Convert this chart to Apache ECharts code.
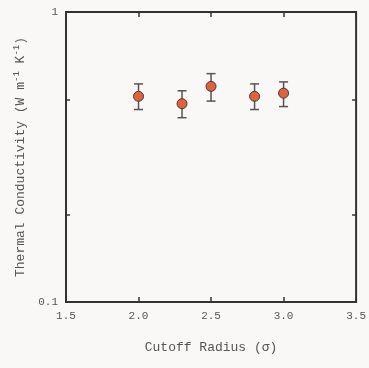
<!DOCTYPE html>
<html>
<head>
<meta charset="utf-8">
<script src="https://cdn.jsdelivr.net/npm/echarts@6/dist/echarts.min.js"></script>
<style>
html,body{margin:0;padding:0;background:#f9f8f6;}
#main{width:369px;height:368px;}
</style>
</head>
<body>
<div id="main"></div>
<script>
var cutoffRadius = [2.0, 2.3, 2.5, 2.8, 3.0];
var conductivity = [0.512, 0.483, 0.554, 0.512, 0.525];
var errLow = [0.461, 0.432, 0.493, 0.461, 0.472];
var errHigh = [0.565, 0.535, 0.613, 0.565, 0.574];
var xTicks = [1.5, 2.0, 2.5, 3.0, 3.5];
var yTicks = [0.1, 0.2, 0.5, 1];
var yLabels = [0.1, 1];

var FONT = 'Liberation Mono';
var chart = echarts.init(document.getElementById('main'), null, {renderer: 'canvas'});

var errData = cutoffRadius.map(function (x, i) { return [x, errLow[i], errHigh[i]]; });
var ptData = cutoffRadius.map(function (x, i) { return [x, conductivity[i]]; });

var commonX = {
  type: 'value', min: 1.5, max: 3.5, interval: 0.5,
  axisLine: {show: false},
  splitLine: {show: false},
  axisTick: {inside: true, length: 5, lineStyle: {color: '#333', width: 1.5}}
};
var commonY = {
  type: 'log', logBase: 10, min: 0.1, max: 1,
  axisLine: {show: false},
  splitLine: {show: false},
  minorTick: {show: false},
  axisTick: {inside: true, length: 4, customValues: yTicks, lineStyle: {color: '#333', width: 1.5}}
};

chart.setOption({
  backgroundColor: '#f9f8f6',
  animation: false,
  grid: {left: 66, right: 11, top: 12, bottom: 66, show: true, borderColor: '#333', borderWidth: 2, backgroundColor: 'transparent'},
  xAxis: [
    Object.assign({}, commonX, {
      position: 'bottom',
      name: 'Cutoff Radius (σ)', nameLocation: 'middle', nameGap: 39,
      nameTextStyle: {fontFamily: FONT, fontSize: 13, color: '#555'},
      axisLabel: {fontFamily: FONT, fontSize: 11, color: '#555', margin: 9,
        formatter: function (v) { return v.toFixed(1); }}
    }),
    Object.assign({}, commonX, {position: 'top', axisLabel: {show: false}})
  ],
  yAxis: [
    Object.assign({}, commonY, {
      position: 'left',
      name: '{n|Thermal Conductivity (W m}{s|-1}{n| K}{s|-1}{n|)}',
      nameLocation: 'middle', nameGap: 36,
      nameTextStyle: {
        fontFamily: FONT, fontSize: 13, color: '#555',
        rich: {
          n: {fontFamily: FONT, fontSize: 13, color: '#555'},
          s: {fontFamily: FONT, fontSize: 9, color: '#555', verticalAlign: 'top', padding: [0, 0, 8, 0]}
        }
      },
      axisLabel: {customValues: yLabels, fontFamily: FONT, fontSize: 11, color: '#555', margin: 8,
        formatter: function (v) { return v >= 1 ? '1' : '0.1'; }}
    }),
    Object.assign({}, commonY, {position: 'right', axisLabel: {show: false}})
  ],
  series: [
    {
      type: 'custom',
      xAxisIndex: 0, yAxisIndex: 0,
      data: errData,
      encode: {x: 0, y: [1, 2]},
      z: 2,
      renderItem: function (params, api) {
        var x = api.value(0);
        var lo = api.coord([x, api.value(1)]);
        var hi = api.coord([x, api.value(2)]);
        var w = 4.5;
        var st = {stroke: '#555', lineWidth: 1.5};
        return {
          type: 'group',
          children: [
            {type: 'line', shape: {x1: lo[0], y1: lo[1], x2: hi[0], y2: hi[1]}, style: st},
            {type: 'line', shape: {x1: lo[0] - w, y1: lo[1], x2: lo[0] + w, y2: lo[1]}, style: st},
            {type: 'line', shape: {x1: hi[0] - w, y1: hi[1], x2: hi[0] + w, y2: hi[1]}, style: st}
          ]
        };
      }
    },
    {
      type: 'scatter',
      xAxisIndex: 0, yAxisIndex: 0,
      data: ptData,
      symbol: 'circle',
      symbolSize: 10,
      z: 3,
      itemStyle: {color: '#e0613d', borderColor: '#4a3a35', borderWidth: 1, opacity: 1}
    }
  ]
});
</script>
</body>
</html>
